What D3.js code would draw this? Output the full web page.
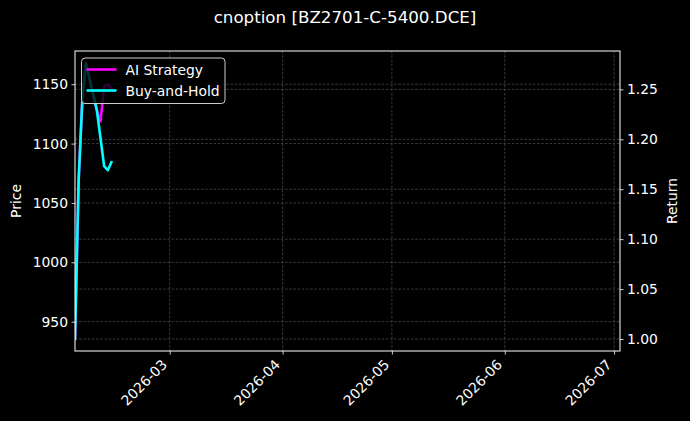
<!DOCTYPE html>
<html>
<head>
<meta charset="utf-8">
<script src="https://cdn.jsdelivr.net/npm/d3@7"></script>
<style>
  html, body { margin: 0; padding: 0; background: #000; }
  svg { display: block; font-family: "DejaVu Sans", sans-serif; }
</style>
</head>
<body>
<svg id="chart" width="690" height="421"></svg>
<script>
// ---- data ----
const title = "cnoption [BZ2701-C-5400.DCE]";
const dates = ["2026-02-03","2026-02-04","2026-02-05","2026-02-06","2026-02-09","2026-02-10","2026-02-11","2026-02-12","2026-02-13"];
const aiReturns = [1.000, 1.159, 1.239, 1.276, 1.229, 1.218, 1.253, 1.255, 1.251];
const bhReturns = [1.000, 1.159, 1.239, 1.276, 1.229, 1.201, 1.173, 1.169, 1.177];
const seriesNames = ["AI Strategy", "Buy-and-Hold"];
const seriesColors = ["#ff00ff", "#00ffff"];
const xDomain = ["2026-02-03T00:00", "2026-07-02T15:00"];
const xTicks = ["2026-03-01","2026-04-01","2026-05-01","2026-06-01","2026-07-01"];
const priceDomain = [925.3, 1178.0];
const priceTicks = [950, 1000, 1050, 1100, 1150];
const returnDomain = [0.988, 1.2884];
const returnTicks = [1.00, 1.05, 1.10, 1.15, 1.20, 1.25];

// ---- layout ----
const W = 690, H = 421;
const m = {left: 75, right: 70, top: 51, bottom: 70};
const pw = W - m.left - m.right, ph = H - m.top - m.bottom;
const svg = d3.select("#chart");
svg.append("rect").attr("width", W).attr("height", H).attr("fill", "#000");

const parse = d3.isoParse;
const x = d3.scaleTime().domain(xDomain.map(parse)).range([m.left, m.left + pw]);
const yP = d3.scaleLinear().domain(priceDomain).range([m.top + ph, m.top]);
const yR = d3.scaleLinear().domain(returnDomain).range([m.top + ph, m.top]);

const fs = 13.9;
const lw = 2.6;
const gridG = svg.append("g");
const gridStyle = sel => sel.attr("stroke", "#5a5a5a").attr("stroke-width", 0.8)
  .attr("stroke-dasharray", "2.6,1.6").attr("opacity", 0.8);

// grids
gridG.selectAll(".gx").data(xTicks.map(parse)).join("line")
  .attr("x1", d => x(d)).attr("x2", d => x(d))
  .attr("y1", m.top).attr("y2", m.top + ph).call(gridStyle);
gridG.selectAll(".gp").data(priceTicks).join("line")
  .attr("x1", m.left).attr("x2", m.left + pw)
  .attr("y1", d => yP(d)).attr("y2", d => yP(d)).call(gridStyle);
gridG.selectAll(".gr").data(returnTicks).join("line")
  .attr("x1", m.left).attr("x2", m.left + pw)
  .attr("y1", d => yR(d)).attr("y2", d => yR(d)).call(gridStyle);

// lines
svg.append("clipPath").attr("id", "clip").append("rect")
  .attr("x", m.left).attr("y", m.top).attr("width", pw).attr("height", ph);
const lineGen = vals => d3.line()
  .x((d, i) => x(parse(dates[i])))
  .y(d => yR(d))(vals);
const linesG = svg.append("g").attr("clip-path", "url(#clip)");
[aiReturns, bhReturns].forEach((vals, k) => {
  linesG.append("path").attr("d", lineGen(vals))
    .attr("fill", "none").attr("stroke", seriesColors[k])
    .attr("stroke-width", lw).attr("stroke-linejoin", "round").attr("stroke-linecap", "square");
});

// axes
function styleAxis(g) {
  g.selectAll("path.domain").remove();
  g.selectAll(".tick line").attr("stroke", "#fff").attr("stroke-width", 0.8);
  g.selectAll(".tick text").attr("fill", "#fff").attr("font-size", fs)
    .attr("font-family", "DejaVu Sans, sans-serif");
}
const axL = svg.append("g").attr("transform", `translate(${m.left},0)`)
  .call(d3.axisLeft(yP).tickValues(priceTicks).tickSize(3.5).tickPadding(3.5).tickFormat(d3.format("d")));
styleAxis(axL);
const axR = svg.append("g").attr("transform", `translate(${m.left + pw},0)`)
  .call(d3.axisRight(yR).tickValues(returnTicks).tickSize(3.5).tickPadding(3.5).tickFormat(d3.format(".2f")));
styleAxis(axR);
const axB = svg.append("g").attr("transform", `translate(0,${m.top + ph})`)
  .call(d3.axisBottom(x).tickValues(xTicks.map(parse)).tickSize(3.5).tickFormat(d3.timeFormat("%Y-%m")));
styleAxis(axB);
axB.selectAll(".tick text")
  .attr("text-anchor", "end").attr("dy", null).attr("y", 0)
  .attr("transform", "translate(-2.2,14.5) rotate(-45)");

// frame
svg.append("rect").attr("x", m.left).attr("y", m.top).attr("width", pw).attr("height", ph)
  .attr("fill", "none").attr("stroke", "#fff").attr("stroke-width", 1);

// labels
svg.append("text").attr("x", W / 2).attr("y", 23).attr("text-anchor", "middle")
  .attr("fill", "#fff").attr("font-size", 16.7).text(title);
svg.append("text").attr("transform", `translate(21,${m.top + ph / 2}) rotate(-90)`)
  .attr("text-anchor", "middle").attr("fill", "#fff").attr("font-size", fs).text("Price");
svg.append("text").attr("transform", `translate(677,${m.top + ph / 2}) rotate(-90)`)
  .attr("text-anchor", "middle").attr("fill", "#fff").attr("font-size", fs).text("Return");

// legend
const lg = svg.append("g").attr("transform", "translate(81.5,58)");
lg.append("rect").attr("width", 143.5).attr("height", 45.5).attr("rx", 3.5)
  .attr("fill", "#000").attr("fill-opacity", 0.8).attr("stroke", "#ccc").attr("stroke-width", 1);
seriesNames.forEach((name, i) => {
  const yy = 11.5 + i * 21;
  lg.append("line").attr("x1", 5).attr("x2", 35).attr("y1", yy).attr("y2", yy)
    .attr("stroke", seriesColors[i]).attr("stroke-width", lw);
  lg.append("text").attr("x", 44).attr("y", yy).attr("dy", "0.36em")
    .attr("fill", "#fff").attr("font-size", fs).text(name);
});
</script>
</body>
</html>
